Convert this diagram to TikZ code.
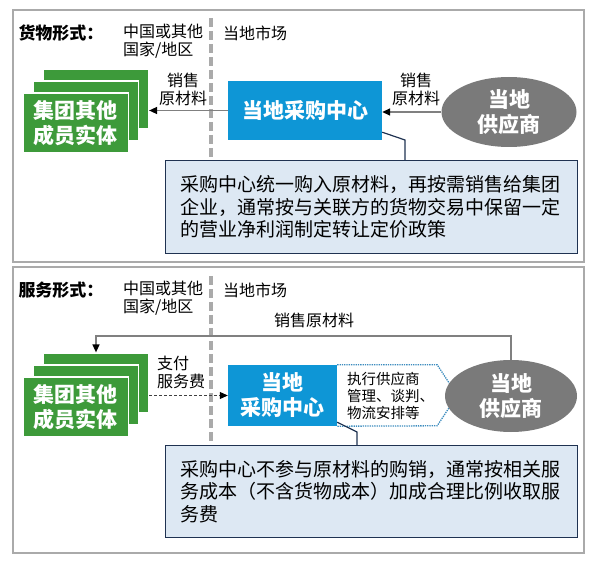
\documentclass[tikz,border=0pt]{standalone}
\usepackage{fontspec}
\setmainfont{Noto Sans CJK SC}
\usetikzlibrary{arrows.meta,positioning,shapes.geometric}

\definecolor{grpgreen}{RGB}{61,154,58}
\definecolor{hubblue}{RGB}{14,150,214}
\definecolor{suppgray}{RGB}{122,122,122}
\definecolor{notefill}{RGB}{221,232,243}
\definecolor{notenavy}{RGB}{31,50,81}
\definecolor{framegray}{RGB}{170,170,170}
\definecolor{taskblue}{RGB}{60,140,190}

\begin{document}
\begin{tikzpicture}[x=1pt,y=-1pt,
  panel/.style={draw=framegray,line width=1.5pt},
  border/.style={draw=framegray,line width=3.5pt,dash pattern=on 9pt off 4pt},
  lbl/.style={font=\fontsize{16}{18}\selectfont,inner sep=0pt},
  head/.style={font=\bfseries\fontsize{17}{20}\selectfont,inner sep=0pt},
  grp/.style={fill=grpgreen,draw=white,line width=1.2pt,minimum width=105pt,minimum height=60pt,inner sep=0pt},
  grpfront/.style={grp,text=white,align=center,font=\bfseries\fontsize{21}{25}\selectfont},
  hub/.style={fill=hubblue,text=white,align=center,inner sep=0pt,font=\bfseries\fontsize{21}{25}\selectfont},
  supp/.style={ellipse,fill=suppgray,text=white,align=center,inner sep=0pt,font=\bfseries\fontsize{21}{25}\selectfont},
  note/.style={fill=notefill,draw=notenavy,line width=1.3pt,align=left,inner xsep=15pt,text width=382pt,font=\fontsize{19}{22.5}\selectfont},
  flow/.style={draw=gray,line width=1.5pt,-{Triangle[length=8pt,width=7pt,color=black]}},
  pay/.style={draw=black!75,line width=0.8pt,densely dashed,-{Triangle[length=8pt,width=7pt,color=black]}},
  pointer/.style={draw=notenavy,line width=1.2pt},
  task/.style={draw=taskblue,line width=1.3pt,densely dotted,fill=white}
]
\useasboundingbox (0,0) rectangle (595,564);

% goods form
\draw[panel] (13,10) rectangle (584,262);
\node[head] (goodshead) at (61,33) {货物形式：};
\node[lbl,align=left,anchor=west] (abroad) at (123,41.5) {中国或其他\\国家/地区};
\node[lbl,anchor=west] (local) at (223,33) {当地市场};
\draw[border] (211,18) -- (211,160);

\node[grp] (grpback) at (96,99) {};
\node[grp] (grpmid) at (86,111) {};
\node[grpfront] (grp) at (76,123) {集团其他\\成员实体};
\node[hub,minimum width=154pt,minimum height=59pt] (buy) at (305,110.5) {当地采购中心};
\node[supp,minimum width=135pt,minimum height=70pt] (sup) at (509,112) {当地\\供应商};

\draw[flow] (buy.west) -- (buy.west -| grpback.east);
\draw[flow] (sup.west) -- (sup.west -| buy.east);
\node[lbl,align=center] (sellA) at (183,89) {销售\\原材料};
\node[lbl,align=center] (sellB) at (416,89) {销售\\原材料};

\node[note,anchor=north west,minimum height=93pt] (note) at (165,160)
  {采购中心统一购入原材料，再按需销售给集团\\企业，通常按与关联方的货物交易中保留一定\\的营业净利润制定转让定价政策};
\coordinate (bendA) at (405,140);
\draw[pointer] ([yshift=8pt]buy.south east) -- (bendA) -- (bendA |- note.north);

% service form
\draw[panel] (13,267) rectangle (584,553);
\node[head] (svchead) at (61,290) {服务形式：};
\node[lbl,align=left,anchor=west] (abroad2) at (123,298.5) {中国或其他\\国家/地区};
\node[lbl,anchor=west] (local2) at (223,290) {当地市场};
\draw[border] (211,276) -- (211,445);

\node[grp] (grpback2) at (96,383) {};
\node[grp] (grpmid2) at (86,395) {};
\node[grpfront] (grp2) at (76,407) {集团其他\\成员实体};
\node[hub,minimum width=109pt,minimum height=61pt] (buy2) at (282.5,395.5) {当地\\采购中心};
\draw[task] (buy2.north east) -- ++(100,0) -- ++(20,30.5) -- ++(-20,30.5) -- (buy2.south east);
\node[lbl,font=\fontsize{14.5}{17}\selectfont,align=left,anchor=west] (task) at (347,396) {执行供应商\\管理、谈判、\\物流安排等};
\node[supp,minimum width=132pt,minimum height=72pt] (sup2) at (511,396) {当地\\供应商};

\draw[flow] (sup2.north) -- ++(0,-24) -| (grpback2.north);
\node[lbl] (sell2) at (314,320) {销售原材料};
\draw[pay] (buy2.west -| grpback2.east) -- (buy2.west);
\node[lbl,align=left,anchor=west] (fee) at (157,372.5) {支付\\服务费};

\node[note,anchor=north west,minimum height=92pt] (note2) at (165,445)
  {采购中心不参与原材料的购销，通常按相关服\\务成本（不含货物成本）加成合理比例收取服\\务费};
\coordinate (bendB) at (357,432);
\draw[pointer] ([yshift=4pt]buy2.south east) -- (bendB) -- (bendB |- note2.north);
\end{tikzpicture}
\end{document}
